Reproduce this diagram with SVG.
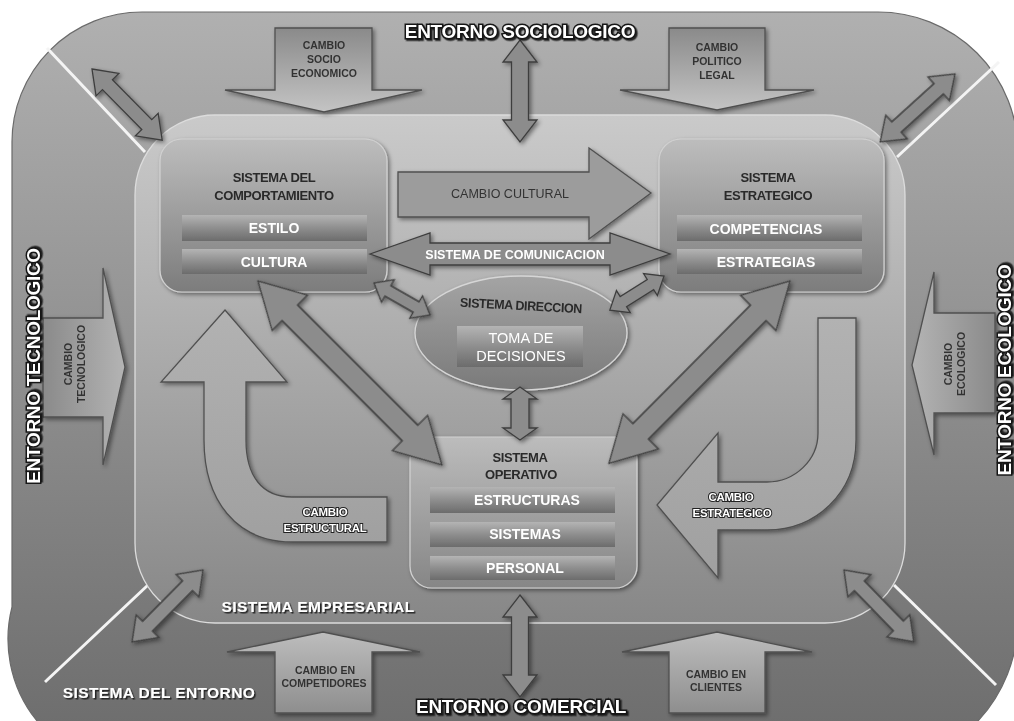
<svg xmlns="http://www.w3.org/2000/svg" width="1014" height="721" viewBox="0 0 1014 721">
  <defs>
    <linearGradient id="gOuter" x1="0" y1="0" x2="0" y2="1">
      <stop offset="0" stop-color="#b0b0b0"/>
      <stop offset="1" stop-color="#6a6a6a"/>
    </linearGradient>
    <linearGradient id="gInner" x1="0" y1="0" x2="0" y2="1">
      <stop offset="0" stop-color="#cacaca"/>
      <stop offset="1" stop-color="#878787"/>
    </linearGradient>
    <linearGradient id="gNode" x1="0" y1="0" x2="0" y2="1">
      <stop offset="0" stop-color="#bdbdbd"/>
      <stop offset="1" stop-color="#7c7c7c"/>
    </linearGradient>
    <linearGradient id="gNodeOp" x1="0" y1="0" x2="0" y2="1">
      <stop offset="0" stop-color="#bcbcbc"/>
      <stop offset="1" stop-color="#868686"/>
    </linearGradient>
    <linearGradient id="gBar" x1="0" y1="0" x2="0" y2="1">
      <stop offset="0" stop-color="#b4b4b4"/>
      <stop offset="0.5" stop-color="#8e8e8e"/>
      <stop offset="1" stop-color="#6c6c6c"/>
    </linearGradient>
    <linearGradient id="gEllipse" x1="0" y1="0" x2="0" y2="1">
      <stop offset="0" stop-color="#a4a4a4"/>
      <stop offset="1" stop-color="#7a7a7a"/>
    </linearGradient>
    <linearGradient id="gDown" x1="0" y1="0" x2="0" y2="1">
      <stop offset="0" stop-color="#8a8a8a"/>
      <stop offset="1" stop-color="#c4c4c4"/>
    </linearGradient>
    <linearGradient id="gUp" x1="0" y1="0" x2="0" y2="1">
      <stop offset="0" stop-color="#bdbdbd"/>
      <stop offset="1" stop-color="#8e8e8e"/>
    </linearGradient>
    <linearGradient id="gRight" x1="0" y1="0" x2="1" y2="0">
      <stop offset="0" stop-color="#8a8a8a"/>
      <stop offset="1" stop-color="#b4b4b4"/>
    </linearGradient>
    <linearGradient id="gLeft" x1="1" y1="0" x2="0" y2="0">
      <stop offset="0" stop-color="#8a8a8a"/>
      <stop offset="1" stop-color="#b4b4b4"/>
    </linearGradient>
    <linearGradient id="gCurve" x1="0" y1="0" x2="0" y2="1">
      <stop offset="0" stop-color="#b2b2b2"/>
      <stop offset="1" stop-color="#a0a0a0"/>
    </linearGradient>
    <filter id="shadow" x="-20%" y="-20%" width="140%" height="140%">
      <feDropShadow dx="2" dy="2" stdDeviation="2" flood-color="#000" flood-opacity="0.45"/>
    </filter>
    <filter id="txtShadow" x="-10%" y="-30%" width="120%" height="160%">
      <feDropShadow dx="1.5" dy="1.5" stdDeviation="0.6" flood-color="#1a1a1a" flood-opacity="0.95"/>
    </filter>
    <style>
      text { font-family: "Liberation Sans", Arial, sans-serif; text-anchor: middle; }
      .env { font-size: 19px; font-weight: bold; fill: #fff; stroke: #151515; stroke-width: 3; paint-order: stroke; letter-spacing: -0.3px; }
      .zone { font-size: 15.5px; font-weight: bold; fill: #fff; letter-spacing: 0.4px; }
      .title { font-size: 13px; font-weight: bold; fill: #2a2a2a; letter-spacing: -0.4px; }
      .bar { font-size: 14px; font-weight: bold; fill: #fff; }
      .chg { font-size: 10.5px; fill: #333; font-weight: bold; }
      .chgW { font-size: 11.5px; font-weight: bold; fill: #fff; stroke: #222; stroke-width: 2; paint-order: stroke; letter-spacing: -0.3px; }
      .blk { stroke: #505050; stroke-width: 1.3; stroke-linejoin: miter; }
      .dbl { fill: #8c8c8c; stroke: #3e3e3e; stroke-width: 1.3; stroke-linejoin: miter; }
      .barRect { fill: url(#gBar); }
      .box { stroke: #d2d2d2; stroke-width: 1.2; }
      .sep { stroke: #f4f4f4; stroke-width: 3; }
    </style>
  </defs>

  <!-- environment frame -->
  <g id="sistema-entorno">
    <path d="M12,142 A130,130 0 0 1 142,12 H878 A140,140 0 0 1 1018,152 V619 A150,150 0 0 1 868,769 H142 A130,130 0 0 1 12,607 Z" fill="url(#gOuter)" stroke="#6a6a6a" stroke-width="1.2"/>
    <line class="sep" x1="47" y1="48" x2="145" y2="152"/>
    <line class="sep" x1="999" y1="62" x2="897" y2="157"/>
    <line class="sep" x1="148" y1="585" x2="45" y2="682"/>
    <line class="sep" x1="894" y1="585" x2="996" y2="685"/>
  </g>

  <!-- company area -->
  <g id="sistema-empresarial">
    <rect x="135" y="115" width="770" height="508" rx="80" fill="url(#gInner)" stroke="#dcdcdc" stroke-width="1.3"/>
  </g>

  <!-- external change arrows -->
  <g id="cambio-socio-economico" filter="url(#shadow)">
    <path class="blk" d="M275,28 H372 V90 H422 L324,112 L225,90 H275 Z" fill="url(#gDown)"/>
    <text class="chg" x="324" y="49">CAMBIO</text>
    <text class="chg" x="324" y="63">SOCIO</text>
    <text class="chg" x="324" y="77">ECONOMICO</text>
  </g>
  <g id="cambio-politico-legal" filter="url(#shadow)">
    <path class="blk" d="M669,28 H765 V90 H814 L717,110 L620,90 H669 Z" fill="url(#gDown)"/>
    <text class="chg" x="717" y="51">CAMBIO</text>
    <text class="chg" x="717" y="65">POLITICO</text>
    <text class="chg" x="717" y="79">LEGAL</text>
  </g>
  <g id="cambio-competidores" filter="url(#shadow)">
    <path class="blk" d="M323,632 L420,652 H372 V713 H275 V652 H227 Z" fill="url(#gUp)"/>
    <text class="chg" x="325" y="674">CAMBIO EN</text>
    <text class="chg" x="324" y="687">COMPETIDORES</text>
  </g>
  <g id="cambio-clientes" filter="url(#shadow)">
    <path class="blk" d="M717,632 L812,652 H765 V713 H669 V652 H622 Z" fill="url(#gUp)"/>
    <text class="chg" x="716" y="678">CAMBIO EN</text>
    <text class="chg" x="716" y="691">CLIENTES</text>
  </g>
  <g id="cambio-tecnologico" filter="url(#shadow)">
    <path class="blk" d="M43,318 H103 V268 L125,367 L103,465 V417 H43 Z" fill="url(#gRight)"/>
    <text class="chg" transform="translate(72,364) rotate(-90)">CAMBIO</text>
    <text class="chg" transform="translate(85,364) rotate(-90)">TECNOLOGICO</text>
  </g>
  <g id="cambio-ecologico" filter="url(#shadow)">
    <path class="blk" d="M995,313 H934 V272 L912,365 L934,455 V413 H995 Z" fill="url(#gLeft)"/>
    <text class="chg" transform="translate(952,364) rotate(-90)">CAMBIO</text>
    <text class="chg" transform="translate(965,364) rotate(-90)">ECOLOGICO</text>
  </g>

  <!-- internal change arrows -->
  <g id="cambio-cultural" filter="url(#shadow)">
    <path class="blk" d="M398,172 H589 V148 L651,193 L589,239 V217 H398 Z" fill="#9c9c9c"/>
    <text x="510" y="198" style="font-size:12.5px;fill:#333">CAMBIO CULTURAL</text>
  </g>
  <g id="cambio-estructural" filter="url(#shadow)">
    <path class="blk" d="M225,310 L287,382 H246 V440 C246,476 262,497 292,497 H387 V542 H292 C236,542 204,500 204,440 V382 H161 Z" fill="url(#gCurve)"/>
    <text class="chgW" x="325" y="516">CAMBIO</text>
    <text class="chgW" x="325" y="532">ESTRUCTURAL</text>
  </g>
  <g id="cambio-estrategico" filter="url(#shadow)">
    <path class="blk" d="M818,318 H856 V440 C856,494 815,530 767,530 H718 V578 L657,505 L718,433 V482 H767 C795,482 818,460 818,433 Z" fill="url(#gCurve)"/>
    <text class="chgW" x="731" y="501">CAMBIO</text>
    <text class="chgW" x="732" y="517">ESTRATEGICO</text>
  </g>

  <!-- subsystems -->
  <g id="sistema-comportamiento" filter="url(#shadow)">
    <rect class="box" x="160" y="139" width="227" height="153" rx="22" fill="url(#gNode)"/>
    <text class="title" x="274" y="182">SISTEMA DEL</text>
    <text class="title" x="274" y="200">COMPORTAMIENTO</text>
    <rect class="barRect" x="182" y="215" width="185" height="26"/>
    <text class="bar" x="274" y="233">ESTILO</text>
    <rect class="barRect" x="182" y="249" width="185" height="25"/>
    <text class="bar" x="274" y="267">CULTURA</text>
  </g>
  <g id="sistema-estrategico" filter="url(#shadow)">
    <rect class="box" x="659" y="139" width="225" height="153" rx="22" fill="url(#gNode)"/>
    <text class="title" x="768" y="182">SISTEMA</text>
    <text class="title" x="768" y="200">ESTRATEGICO</text>
    <rect class="barRect" x="677" y="215" width="185" height="26"/>
    <text class="bar" x="766" y="234">COMPETENCIAS</text>
    <rect class="barRect" x="677" y="249" width="185" height="25"/>
    <text class="bar" x="766" y="267">ESTRATEGIAS</text>
  </g>
  <g id="sistema-direccion" filter="url(#shadow)">
    <ellipse cx="521" cy="333" rx="106" ry="57" fill="url(#gEllipse)" stroke="#d6d6d6" stroke-width="1.3"/>
    <text class="title" x="521" y="310" transform="rotate(3 521 306)" textLength="122" lengthAdjust="spacingAndGlyphs">SISTEMA DIRECCION</text>
    <rect class="barRect" x="457" y="326" width="126" height="41"/>
    <text class="bar" x="521" y="343" style="font-weight:normal;font-size:14.5px">TOMA DE</text>
    <text class="bar" x="521" y="361" style="font-weight:normal;font-size:14.5px">DECISIONES</text>
  </g>
  <g id="sistema-operativo" filter="url(#shadow)">
    <rect class="box" x="410" y="437" width="227" height="151" rx="22" fill="url(#gNodeOp)"/>
    <text class="title" x="520" y="462">SISTEMA</text>
    <text class="title" x="521" y="479">OPERATIVO</text>
    <rect class="barRect" x="430" y="487" width="185" height="26"/>
    <text class="bar" x="527" y="505">ESTRUCTURAS</text>
    <rect class="barRect" x="430" y="522" width="185" height="25"/>
    <text class="bar" x="525" y="539">SISTEMAS</text>
    <rect class="barRect" x="430" y="556" width="185" height="24"/>
    <text class="bar" x="525" y="573">PERSONAL</text>
  </g>

  <!-- two-way links -->
  <g id="connectors" filter="url(#shadow)">
    <polygon class="dbl" transform="translate(92,69) rotate(45.4)" points="0,0 22,-16 22,-7 78,-7 78,-16 100,0 78,16 78,7 22,7 22,16"/>
    <polygon class="dbl" transform="translate(955,74) rotate(137.8)" points="0,0 22,-16 22,-7 79,-7 79,-16 101,0 79,16 79,7 22,7 22,16"/>
    <polygon class="dbl" transform="translate(203,570) rotate(134.6)" points="0,0 22,-16 22,-7 79,-7 79,-16 101,0 79,16 79,7 22,7 22,16"/>
    <polygon class="dbl" transform="translate(844,570) rotate(45.8)" points="0,0 22,-16 22,-7 78,-7 78,-16 100,0 78,16 78,7 22,7 22,16"/>
    <polygon class="dbl" transform="translate(520,40) rotate(90)" points="0,0 22,-17 22,-8.5 80,-8.5 80,-17 102,0 80,17 80,8.5 22,8.5 22,17"/>
    <polygon class="dbl" transform="translate(520,387) rotate(90)" points="0,0 12,-17 12,-9 41,-9 41,-17 53,0 41,17 41,9 12,9 12,17"/>
    <polygon class="dbl" transform="translate(520,595) rotate(90)" points="0,0 22,-17 22,-8.5 80,-8.5 80,-17 102,0 80,17 80,8.5 22,8.5 22,17"/>
    <polygon class="dbl" transform="translate(258,281) rotate(45)" points="0,0 45,-25 45,-11 215,-11 215,-25 260,0 215,25 215,11 45,11 45,25"/>
    <polygon class="dbl" transform="translate(790,281) rotate(134.8)" points="0,0 45,-25 45,-11 212,-11 212,-25 257,0 212,25 212,11 45,11 45,25"/>
    <polygon class="dbl" transform="translate(370,254) rotate(0)" points="0,0 60,-21 60,-11 240,-11 240,-21 300,0 240,21 240,11 60,11 60,21"/>
    <polygon class="dbl" transform="translate(374,283) rotate(29.7)" points="0,0 16,-13 16,-6 48.5,-6 48.5,-13 64.5,0 48.5,13 48.5,6 16,6 16,13"/>
    <polygon class="dbl" transform="translate(664,276) rotate(147.8)" points="0,0 16,-13 16,-6 48,-6 48,-13 64,0 48,13 48,6 16,6 16,13"/>
  </g>
  <text x="515" y="259" style="font-size:12.5px;font-weight:bold;fill:#fff">SISTEMA DE COMUNICACION</text>

  <!-- zone labels -->
  <g id="etiquetas">
    <text class="env" x="520" y="38" filter="url(#txtShadow)">ENTORNO SOCIOLOGICO</text>
    <text class="env" x="521" y="713" filter="url(#txtShadow)">ENTORNO COMERCIAL</text>
    <text class="env" transform="translate(40,366) rotate(-90)" filter="url(#txtShadow)">ENTORNO TECNOLOGICO</text>
    <text class="env" transform="translate(1011,370) rotate(-90)" filter="url(#txtShadow)">ENTORNO ECOLOGICO</text>
    <text class="zone" x="159" y="698" filter="url(#txtShadow)">SISTEMA DEL ENTORNO</text>
    <text class="zone" x="318" y="612" filter="url(#txtShadow)">SISTEMA EMPRESARIAL</text>
  </g>
</svg>
